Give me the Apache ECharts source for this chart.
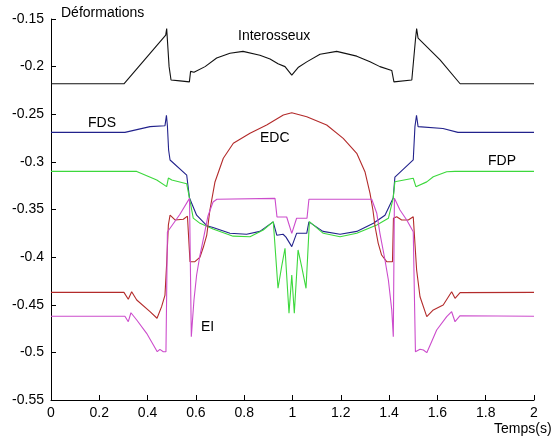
<!DOCTYPE html>
<html>
<head>
<meta charset="utf-8">
<script src="https://cdn.jsdelivr.net/npm/echarts@6/dist/echarts.min.js"></script>
<style>
html,body{margin:0;padding:0;background:#fff;}
#chart{width:553px;height:443px;}
</style>
</head>
<body>
<div id="chart"></div>
<script>
// Tick values
var xTicks = [0, 0.2, 0.4, 0.6, 0.8, 1, 1.2, 1.4, 1.6, 1.8, 2];
var yTicks = [-0.55, -0.5, -0.45, -0.4, -0.35, -0.3, -0.25, -0.2, -0.15];

// Interosseux (black)
var interT = [0, 0.302, 0.475, 0.479, 0.489, 0.497, 0.534, 0.573, 0.578, 0.592, 0.638, 0.686, 0.741, 0.795, 0.865, 0.907, 0.940, 0.969, 0.997, 1.023, 1.059, 1.114, 1.183, 1.266, 1.321, 1.362, 1.411, 1.420, 1.494, 1.509, 1.514, 1.520, 1.611, 1.694, 2.0];
var interV = [-0.218, -0.218, -0.167, -0.160, -0.200, -0.214, -0.215, -0.216, -0.205, -0.206, -0.200, -0.191, -0.186, -0.184, -0.188, -0.192, -0.197, -0.200, -0.209, -0.201, -0.195, -0.187, -0.184, -0.189, -0.195, -0.200, -0.204, -0.216, -0.214, -0.172, -0.160, -0.170, -0.193, -0.218, -0.218];

// FDS (blue)
var fdsT = [0, 0.306, 0.410, 0.472, 0.478, 0.482, 0.487, 0.493, 0.562, 0.5735, 0.603, 0.645, 0.671, 0.741, 0.810, 0.865, 0.920, 0.935, 0.961, 0.973, 0.997, 1.017, 1.059, 1.068, 1.126, 1.197, 1.266, 1.335, 1.383, 1.417, 1.424, 1.500, 1.507, 1.5135, 1.520, 1.623, 1.685, 2.0];
var fdsV = [-0.269, -0.269, -0.263, -0.262, -0.251, -0.262, -0.2875, -0.298, -0.314, -0.338, -0.356, -0.367, -0.369, -0.375, -0.376, -0.373, -0.363, -0.377, -0.376, -0.379, -0.389, -0.375, -0.375, -0.363, -0.373, -0.376, -0.373, -0.3645, -0.356, -0.338, -0.316, -0.298, -0.263, -0.251, -0.263, -0.265, -0.269, -0.269];

// FDP (green)
var fdpT = [0, 0.355, 0.438, 0.479, 0.486, 0.493, 0.500, 0.562, 0.5735, 0.589, 0.617, 0.671, 0.754, 0.824, 0.879, 0.9205, 0.925, 0.940, 0.955, 0.969, 0.9855, 0.997, 1.0075, 1.023, 1.038, 1.056, 1.070, 1.1275, 1.197, 1.266, 1.349, 1.397, 1.417, 1.424, 1.500, 1.511, 1.556, 1.583, 1.6385, 1.673, 2.0];
var fdpV = [-0.310, -0.310, -0.319, -0.326, -0.317, -0.3156, -0.319, -0.323, -0.338, -0.359, -0.3645, -0.3705, -0.378, -0.3786, -0.3715, -0.3628, -0.363, -0.4327, -0.410, -0.3907, -0.459, -0.4188, -0.459, -0.3925, -0.410, -0.4327, -0.3628, -0.375, -0.3786, -0.375, -0.3663, -0.3592, -0.338, -0.3208, -0.3172, -0.326, -0.321, -0.3156, -0.3103, -0.310, -0.310];

// EDC (red)
var edcT = [0, 0.302, 0.320, 0.334, 0.355, 0.410, 0.439, 0.458, 0.472, 0.479, 0.486, 0.493, 0.5135, 0.548, 0.565, 0.571, 0.5756, 0.596, 0.617, 0.631, 0.645, 0.658, 0.679, 0.7135, 0.755, 0.824, 0.893, 0.962, 0.997, 1.059, 1.1416, 1.210, 1.266, 1.300, 1.321, 1.333, 1.342, 1.355, 1.369, 1.390, 1.414, 1.418, 1.4315, 1.452, 1.4795, 1.500, 1.507, 1.514, 1.528, 1.556, 1.583, 1.624, 1.659, 1.673, 1.694, 2.0];
var edcV = [-0.437, -0.437, -0.4443, -0.4363, -0.445, -0.4573, -0.4642, -0.452, -0.4398, -0.4065, -0.3663, -0.3558, -0.361, -0.3603, -0.357, -0.358, -0.4048, -0.4048, -0.3999, -0.3894, -0.3768, -0.3505, -0.3211, -0.2962, -0.2805, -0.270, -0.2613, -0.2508, -0.2484, -0.2526, -0.2613, -0.2753, -0.291, -0.3103, -0.333, -0.3505, -0.3681, -0.3855, -0.3978, -0.4048, -0.4048, -0.3592, -0.3576, -0.361, -0.361, -0.3576, -0.3558, -0.4135, -0.4416, -0.4625, -0.4555, -0.4503, -0.4363, -0.4432, -0.4373, -0.437];

// EI (magenta)
var eiT = [0, 0.306, 0.320, 0.331, 0.355, 0.396, 0.424, 0.440, 0.451, 0.465, 0.476, 0.482, 0.534, 0.5735, 0.581, 0.592, 0.603, 0.617, 0.6335, 0.650, 0.671, 0.687, 0.9275, 0.9358, 0.976, 0.997, 1.017, 1.060, 1.068, 1.328, 1.349, 1.362, 1.383, 1.397, 1.411, 1.4174, 1.422, 1.445, 1.473, 1.500, 1.509, 1.528, 1.542, 1.556, 1.576, 1.597, 1.6385, 1.659, 1.673, 1.694, 2.0];
var eiV = [-0.462, -0.462, -0.4678, -0.4584, -0.466, -0.480, -0.4923, -0.4993, -0.4968, -0.4993, -0.4993, -0.3736, -0.355, -0.3383, -0.4835, -0.445, -0.4188, -0.3978, -0.3778, -0.3568, -0.3421, -0.3393, -0.3383, -0.3579, -0.3579, -0.375, -0.3592, -0.3592, -0.3393, -0.3393, -0.354, -0.375, -0.403, -0.424, -0.4555, -0.4835, -0.3383, -0.3505, -0.361, -0.3733, -0.4993, -0.4968, -0.4975, -0.5003, -0.4888, -0.4765, -0.4625, -0.4573, -0.4678, -0.4615, -0.462];

function zip(t, v) { return t.map(function (x, i) { return [x, v[i]]; }); }
function fmt(v) { return String(parseFloat(v.toFixed(2))); }

var FONT = 'Liberation Sans, Arial, sans-serif';

function lineSeries(name, t, v, color) {
  return {
    name: name, type: 'line', data: zip(t, v), showSymbol: false, symbol: 'none',
    lineStyle: { color: color, width: 1.1 }, animation: false, z: 2
  };
}

var chart = echarts.init(document.getElementById('chart'), null, { renderer: 'canvas' });
chart.setOption({
  backgroundColor: '#ffffff',
  animation: false,
  grid: { left: 51, top: 19, right: 19, bottom: 43 },
  xAxis: {
    type: 'value', min: xTicks[0], max: xTicks[xTicks.length - 1], interval: 0.2,
    axisLine: { show: true, onZero: false, lineStyle: { color: '#000', width: 1 } },
    axisTick: { show: true, inside: true, length: 5, lineStyle: { color: '#000' } },
    splitLine: { show: false },
    axisLabel: { color: '#000', fontSize: 14, fontFamily: FONT, margin: 6, formatter: fmt }
  },
  yAxis: {
    type: 'value', min: yTicks[0], max: yTicks[yTicks.length - 1], interval: 0.05,
    axisLine: { show: true, onZero: false, lineStyle: { color: '#000', width: 1 } },
    axisTick: { show: true, inside: true, length: 5, lineStyle: { color: '#000' } },
    splitLine: { show: false },
    axisLabel: { color: '#000', fontSize: 14, fontFamily: FONT, margin: 7, formatter: fmt }
  },
  series: [
    lineSeries('Interosseux', interT, interV, '#111111'),
    lineSeries('FDS', fdsT, fdsV, '#22228c'),
    lineSeries('FDP', fdpT, fdpV, '#3cd83c'),
    lineSeries('EDC', edcT, edcV, '#b32b2b'),
    lineSeries('EI', eiT, eiV, '#cc4ccc')
  ],
  graphic: [
    { type: 'text', left: 61, top: 6, style: { text: 'Déformations', fontSize: 14, fontFamily: FONT, fill: '#000' } },
    { type: 'text', left: 238, top: 29, style: { text: 'Interosseux', fontSize: 14, fontFamily: FONT, fill: '#000' } },
    { type: 'text', left: 88, top: 116, style: { text: 'FDS', fontSize: 14, fontFamily: FONT, fill: '#000' } },
    { type: 'text', left: 260, top: 131, style: { text: 'EDC', fontSize: 14, fontFamily: FONT, fill: '#000' } },
    { type: 'text', left: 488, top: 154, style: { text: 'FDP', fontSize: 14, fontFamily: FONT, fill: '#000' } },
    { type: 'text', left: 201, top: 320, style: { text: 'EI', fontSize: 14, fontFamily: FONT, fill: '#000' } },
    { type: 'text', left: 494, top: 422, style: { text: 'Temps(s)', fontSize: 14, fontFamily: FONT, fill: '#000' } }
  ]
});
</script>
</body>
</html>
